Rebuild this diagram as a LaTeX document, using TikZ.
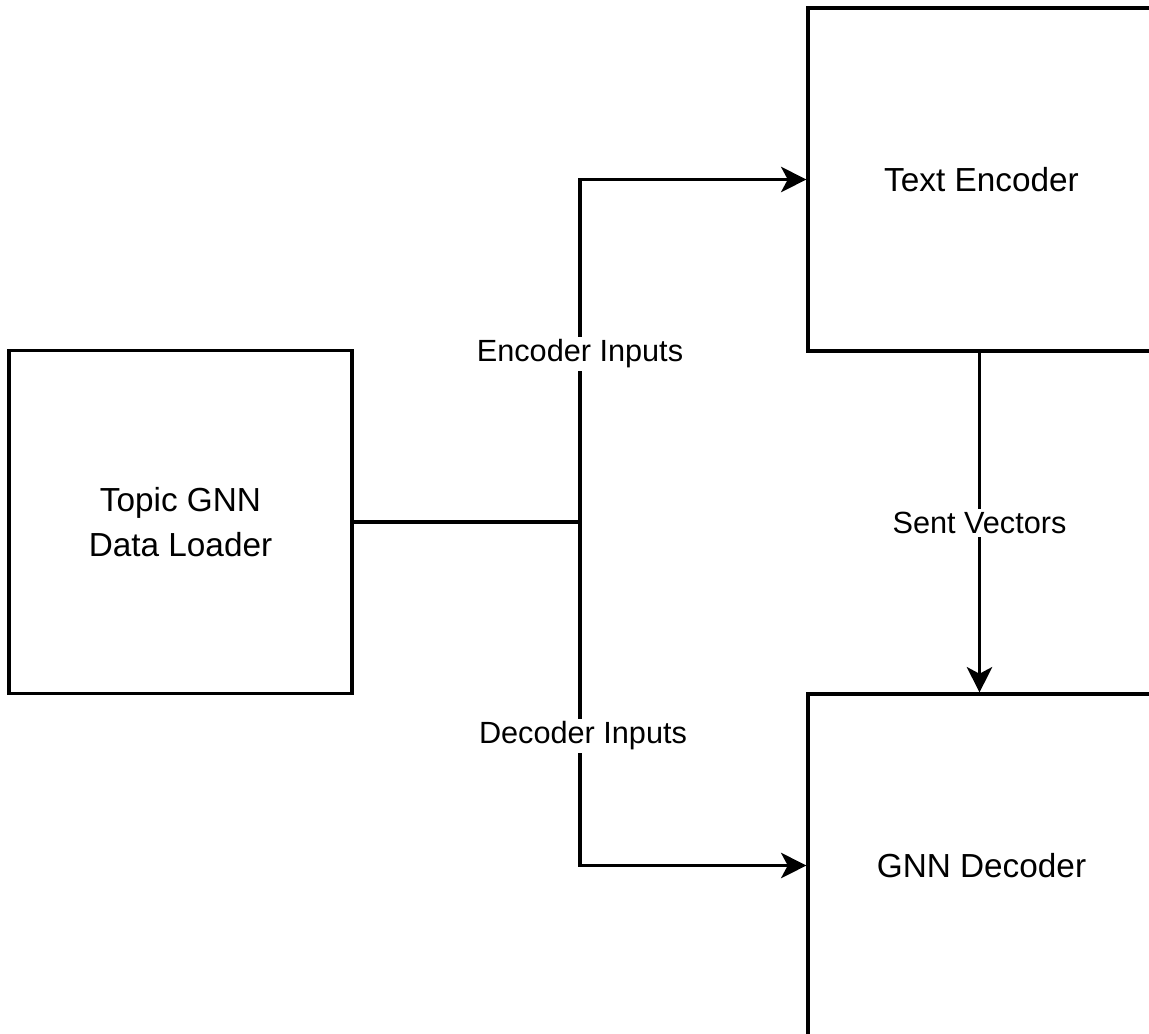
\documentclass[tikz,border=0pt]{standalone}
\usepackage{fontspec}
\setmainfont{Liberation Sans}
\usetikzlibrary{arrows.meta}
\begin{document}
\begin{tikzpicture}[x=0.75pt,y=-0.75pt,
  box/.style={draw,line width=2.4pt,minimum width=257.25pt,minimum height=257.25pt,inner sep=0pt,align=center,font=\fontsize{25}{34}\selectfont},
  wide/.style={minimum width=260.25pt},
  conn/.style={line width=2.4pt},
  arr/.style={conn,-{Stealth[length=19pt,width=19pt,inset=5pt]}},
  lbl/.style={fill=white,inner sep=2pt,font=\fontsize{23}{28}\selectfont}]
\useasboundingbox (0,0) rectangle (1149,1033);
\clip (0,0) rectangle (1149,1033);
\node[box] (loader) at (180.5,522) {Topic GNN\\Data Loader};
\node[box,wide] (enc) at (981.5,179.5) {Text Encoder};
\node[box,wide] (dec) at (981.5,865.5) {GNN Decoder};
\coordinate (j) at (580,522);
\draw[conn] (loader.east) -- (j);
\draw[arr] (j) |- (enc.west);
\draw[arr] (j) |- (dec.west);
\draw[arr] (enc.south -| 979.5,0) -- (dec.north -| 979.5,0);
\node[lbl] (encin) at (580,354) {Encoder Inputs};
\node[lbl] (decin) at (583,736) {Decoder Inputs};
\node[lbl] (sent) at (979.5,523) {Sent Vectors};
\end{tikzpicture}
\end{document}
